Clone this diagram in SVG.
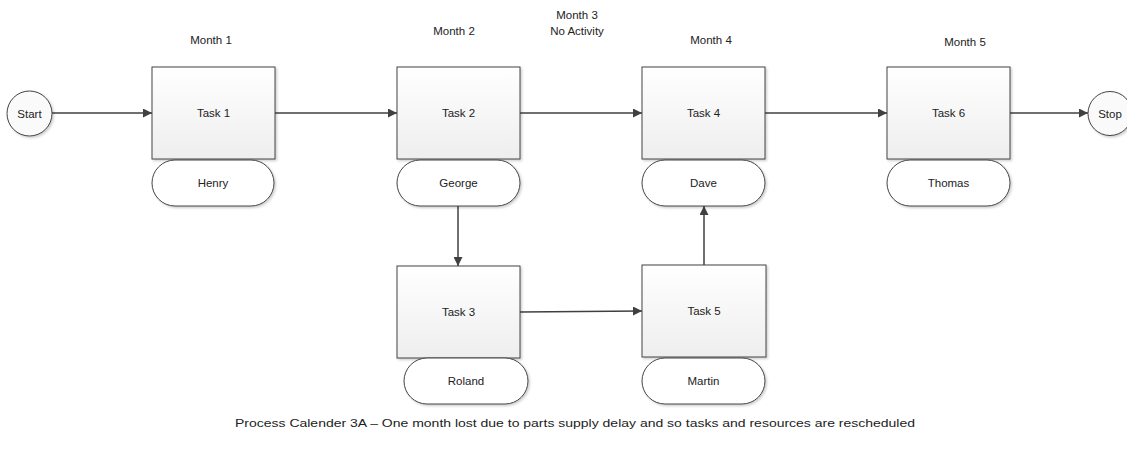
<svg xmlns="http://www.w3.org/2000/svg" width="1127" height="465" viewBox="0 0 1127 465">
  <style>
    text { font-family: "Liberation Sans", "Open Sans", Arial, sans-serif; font-size: 11.5px; fill: #222; text-anchor: middle; dominant-baseline: central; }
    .task { fill: url(#taskFill); stroke: #444; stroke-width: 1; filter: url(#shadow); }
    .pill { fill: #fff; stroke: #444; stroke-width: 1; filter: url(#shadow); }
    .term { fill: #fafafa; stroke: #444; stroke-width: 1; filter: url(#shadow); }
    .edge { fill: none; stroke: #404040; stroke-width: 1.5; marker-end: url(#arrow); }
  </style>
  <defs>
    <linearGradient id="taskFill" x1="0" y1="0" x2="0" y2="1">
      <stop offset="0" stop-color="#ffffff"/>
      <stop offset="1" stop-color="#eeeeee"/>
    </linearGradient>
    <filter id="shadow" x="-10%" y="-10%" width="130%" height="130%">
      <feDropShadow dx="1.5" dy="1.5" stdDeviation="0.8" flood-color="#000" flood-opacity="0.2"/>
    </filter>
    <marker id="arrow" viewBox="0 0 10 10" refX="10" refY="5" markerWidth="10" markerHeight="9" markerUnits="userSpaceOnUse" orient="auto">
      <path d="M0,0 L10,5 L0,10 z" fill="#404040"/>
    </marker>
  </defs>

  <!-- month headings -->
  <g id="headings">
    <text x="211" y="40">Month 1</text>
    <text x="454" y="31">Month 2</text>
    <text x="577" y="15">Month 3</text>
    <text x="577" y="31">No Activity</text>
    <text x="711" y="40">Month 4</text>
    <text x="965" y="42">Month 5</text>
  </g>

  <!-- connectors -->
  <g id="connectors">
    <path class="edge" d="M52,113 L152,113"/>
    <path class="edge" d="M275,113 L397,113"/>
    <path class="edge" d="M520,113 L642,113"/>
    <path class="edge" d="M765,113 L887,113"/>
    <path class="edge" d="M1010,113 L1088,113"/>
    <path class="edge" d="M458,206 L458,266"/>
    <path class="edge" d="M520,312 L642,311"/>
    <path class="edge" d="M704,265 L704,206"/>
  </g>

  <g id="start">
    <circle class="term" cx="29.5" cy="113.5" r="22.5"/>
    <text x="29.5" y="113.5">Start</text>
  </g>

  <g id="task1">
    <rect class="task" x="152" y="67" width="123" height="92"/>
    <text x="213.5" y="113">Task 1</text>
  </g>
  <g id="henry">
    <rect class="pill" x="152" y="160" width="122" height="46" rx="23"/>
    <text x="213" y="183">Henry</text>
  </g>

  <g id="task2">
    <rect class="task" x="397" y="67" width="123" height="92"/>
    <text x="458.5" y="113">Task 2</text>
  </g>
  <g id="george">
    <rect class="pill" x="397" y="160" width="123" height="46" rx="23"/>
    <text x="458.5" y="183">George</text>
  </g>

  <g id="task3">
    <rect class="task" x="397" y="266" width="123" height="92"/>
    <text x="458.5" y="312">Task 3</text>
  </g>
  <g id="roland">
    <rect class="pill" x="404" y="358" width="124" height="46" rx="23"/>
    <text x="466" y="381">Roland</text>
  </g>

  <g id="task4">
    <rect class="task" x="642" y="67" width="123" height="92"/>
    <text x="703.5" y="113">Task 4</text>
  </g>
  <g id="dave">
    <rect class="pill" x="642" y="160" width="123" height="46" rx="23"/>
    <text x="703.5" y="183">Dave</text>
  </g>

  <g id="task5">
    <rect class="task" x="642" y="265" width="124" height="92"/>
    <text x="704" y="311">Task 5</text>
  </g>
  <g id="martin">
    <rect class="pill" x="642" y="358" width="123" height="46" rx="23"/>
    <text x="703.5" y="381">Martin</text>
  </g>

  <g id="task6">
    <rect class="task" x="887" y="67" width="123" height="92"/>
    <text x="948.5" y="113">Task 6</text>
  </g>
  <g id="thomas">
    <rect class="pill" x="887" y="160" width="123" height="46" rx="23"/>
    <text x="948.5" y="183">Thomas</text>
  </g>

  <g id="stop">
    <circle class="term" cx="1110" cy="113.5" r="22"/>
    <text x="1110" y="113.5">Stop</text>
  </g>

  <g id="caption">
    <text x="575" y="423" font-size="10.5" textLength="680" lengthAdjust="spacingAndGlyphs">Process Calender 3A – One month lost due to parts supply delay and so tasks and resources are rescheduled</text>
  </g>
</svg>
